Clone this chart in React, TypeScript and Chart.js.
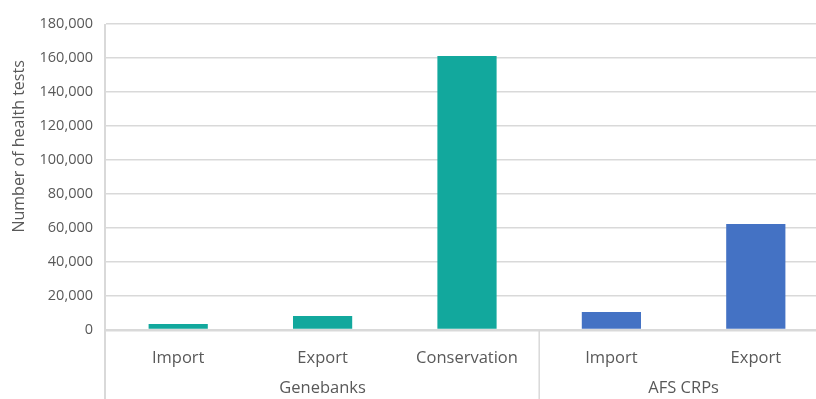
import React, { useEffect, useRef } from "react";
import { Chart, registerables } from "chart.js";

Chart.register(...registerables);

const categories = ["Import", "Export", "Conservation", "Import", "Export"];
const groups = ["Genebanks", "AFS CRPs"];
const groupSizes = [3, 2];
const values = [3500, 8300, 161200, 10600, 62300];
const barColors = ["#12A89D", "#12A89D", "#12A89D", "#4472C4", "#4472C4"];
const yTicks = [0, 20000, 40000, 60000, 80000, 100000, 120000, 140000, 160000, 180000];
const yTitle = "Number of health tests";

const FONT = "'Open Sans', Lato, sans-serif";
const TEXT = "#595959";
const LINE = "#d9d9d9";

const groupPlugin = {
  id: "groupPlugin",
  afterDraw(chart: any) {
    const ctx = chart.ctx;
    const x = chart.scales.x;
    const area = chart.chartArea;
    const H = chart.height;
    const n = categories.length;
    const boundary = (i: number) => {
      if (i <= 0) return x.left;
      if (i >= n) return x.right;
      return (x.getPixelForValue(i - 1) + x.getPixelForValue(i)) / 2;
    };
    ctx.save();
    ctx.strokeStyle = LINE;
    ctx.lineWidth = 2;
    ctx.beginPath();
    ctx.moveTo(x.left - 1, area.top);
    ctx.lineTo(x.left - 1, H);
    ctx.stroke();
    ctx.lineWidth = 1.5;
    let start = 0;
    const bounds: number[][] = [];
    groupSizes.forEach((s) => {
      const a = boundary(start);
      const b = boundary(start + s);
      bounds.push([a, b]);
      start += s;
      if (start < n) {
        ctx.beginPath();
        ctx.moveTo(b, area.bottom);
        ctx.lineTo(b, H);
        ctx.stroke();
      }
    });
    ctx.beginPath();
    ctx.moveTo(x.right, area.bottom);
    ctx.lineTo(x.right, H);
    ctx.stroke();
    ctx.fillStyle = TEXT;
    ctx.font = `16.5px ${FONT}`;
    ctx.textAlign = "center";
    ctx.textBaseline = "alphabetic";
    groups.forEach((g, i) => {
      ctx.fillText(g, (bounds[i][0] + bounds[i][1]) / 2, 393);
    });
    ctx.font = `16px ${FONT}`;
    ctx.translate(19, area.top + (area.bottom - area.top) * 0.4);
    ctx.rotate(-Math.PI / 2);
    ctx.textBaseline = "middle";
    ctx.fillText(yTitle, 0, 0);
    ctx.restore();
  },
};

export default function App() {
  const ref = useRef<HTMLCanvasElement>(null);
  useEffect(() => {
    const chart = new Chart(ref.current!, {
      type: "bar",
      data: {
        labels: categories,
        datasets: [
          {
            data: values,
            backgroundColor: barColors,
            categoryPercentage: 1,
            barPercentage: 0.41,
          },
        ],
      },
      options: {
        animation: false,
        responsive: false,
        layout: { padding: { left: 0, right: 2, top: 24, bottom: 0 } },
        plugins: { legend: { display: false }, tooltip: { enabled: false } },
        scales: {
          x: {
            offset: true,
            grid: { display: false },
            border: { display: false },
            ticks: {
              color: TEXT,
              font: { family: FONT, size: 16.5 },
              padding: 10,
              maxRotation: 0,
              autoSkip: false,
            },
            afterFit: (s: any) => {
              s.height = 69;
            },
          },
          y: {
            min: 0,
            max: 180000,
            afterBuildTicks: (s: any) => {
              s.ticks = yTicks.map((v) => ({ value: v }));
            },
            grid: {
              color: LINE,
              lineWidth: (c: any) => (c.tick && c.tick.value === 0 ? 2.5 : 1.5),
              drawTicks: false,
            },
            border: { display: false },
            ticks: {
              color: TEXT,
              font: { family: FONT, size: 14.5 },
              padding: 13,
              callback: (v: any) => Number(v).toLocaleString("en-US"),
            },
            afterFit: (s: any) => {
              s.width = 106;
            },
          },
        },
      },
      plugins: [groupPlugin],
    });
    return () => chart.destroy();
  }, []);
  return (
    <div style={{ position: "fixed", left: 0, top: 0, width: 816, height: 399, overflow: "hidden", background: "#fff" }}>
      <canvas ref={ref} width={830} height={399} style={{ width: 830, height: 399, display: "block" }} />
    </div>
  );
}
